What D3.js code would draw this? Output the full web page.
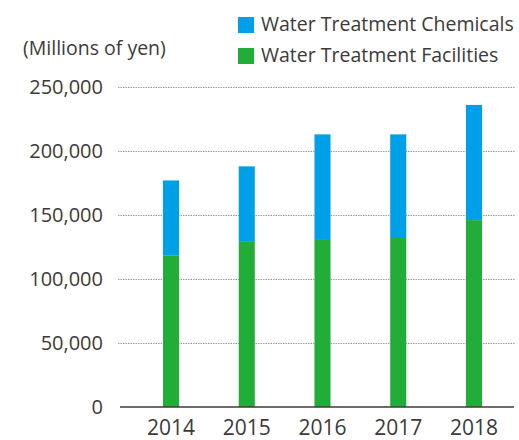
<!DOCTYPE html>
<html>
<head>
<meta charset="utf-8">
<script src="https://cdn.jsdelivr.net/npm/d3@7"></script>
<style>
  body { margin: 0; background: #fff; }
  text { font-family: "Open Sans", sans-serif; fill: #3e3a39; }
</style>
</head>
<body>
<svg id="chart" width="519" height="440"></svg>
<script>
// data (millions of yen)
const years = ['2014', '2015', '2016', '2017', '2018'];
const facilities = [118500, 129000, 130500, 132000, 146000];
const chemicals = [58500, 59000, 82500, 81000, 90000];
const yTicks = [0, 50000, 100000, 150000, 200000, 250000];
const seriesNames = ['Water Treatment Facilities', 'Water Treatment Chemicals'];
const seriesColors = ['#22ac38', '#00a0e9'];

const svg = d3.select('#chart');

const gridLeft = 118;
const gridRight = 515;

const y = d3.scaleLinear()
  .domain([0, 250000])
  .range([407, 87]);

const x = d3.scaleBand()
  .domain(years)
  .range([163, 482])
  .paddingInner(0.788)
  .paddingOuter(0);

const rows = years.map((yr, i) => ({
  year: yr,
  facilities: facilities[i],
  chemicals: chemicals[i],
}));

const stacked = d3.stack().keys(['facilities', 'chemicals'])(rows);

// grid + y labels
const yAxis = svg.append('g')
  .attr('transform', `translate(${gridLeft},0)`)
  .call(d3.axisLeft(y)
    .tickValues(yTicks)
    .tickSize(-(gridRight - gridLeft))
    .tickPadding(15)
    .tickFormat(d3.format(',')));

yAxis.select('.domain').remove();
yAxis.selectAll('.tick line')
  .attr('stroke', '#9e9e9e')
  .attr('stroke-dasharray', '1.5,1')
  .attr('stroke-width', 1)
  .filter(d => d === 0).remove();
yAxis.selectAll('.tick text')
  .style('font-size', '20px');

// bars
svg.append('g')
  .selectAll('g')
  .data(stacked)
  .join('g')
    .attr('fill', (d, i) => seriesColors[i])
  .selectAll('rect')
  .data(d => d)
  .join('rect')
    .attr('x', d => x(d.data.year))
    .attr('y', d => y(d[1]))
    .attr('width', x.bandwidth())
    .attr('height', d => y(d[0]) - y(d[1]));

// x axis
const xAxis = svg.append('g')
  .attr('transform', `translate(0,${y(0)})`)
  .call(d3.axisBottom(x).tickSize(0).tickPadding(13));

xAxis.select('.domain').remove();
xAxis.selectAll('.tick text')
  .style('font-size', '21px');

svg.append('line')
  .attr('x1', 120)
  .attr('x2', 514)
  .attr('y1', y(0))
  .attr('y2', y(0))
  .attr('stroke', '#3e3a39')
  .attr('stroke-width', 1.6);

// unit label
svg.append('text')
  .attr('x', 23)
  .attr('y', 55)
  .style('font-size', '19.5px')
  .text('(Millions of yen)');

// legend (chemicals on top)
const legend = svg.append('g')
  .attr('transform', 'translate(238,17)')
  .selectAll('g')
  .data([1, 0])
  .join('g')
    .attr('transform', (d, i) => `translate(0,${i * 31})`);

legend.append('rect')
  .attr('width', 16)
  .attr('height', 16)
  .attr('fill', d => seriesColors[d]);

legend.append('text')
  .attr('x', 23)
  .attr('y', 14)
  .style('font-size', '19.5px')
  .text(d => seriesNames[d]);
</script>
</body>
</html>
